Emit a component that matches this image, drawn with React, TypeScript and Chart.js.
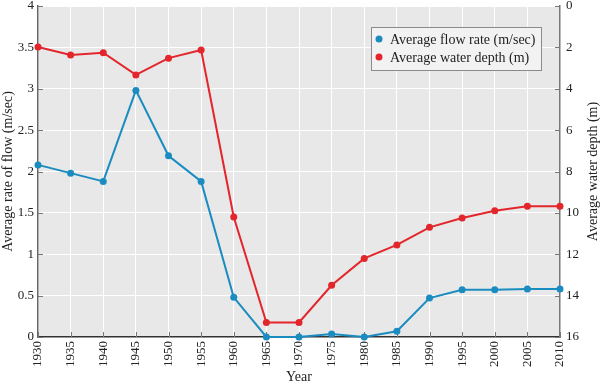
import React, { useEffect, useRef } from "react";
import { Chart, registerables } from "chart.js";

Chart.register(...registerables);

const years = ["1930", "1935", "1940", "1945", "1950", "1955", "1960", "1965", "1970", "1975", "1980", "1985", "1990", "1995", "2000", "2005", "2010"];
const flowRate = [2.08, 1.98, 1.88, 2.98, 2.19, 1.88, 0.48, 0, 0, 0.035, 0, 0.07, 0.47, 0.57, 0.57, 0.58, 0.58];
const waterDepth = [1.98, 2.37, 2.26, 3.33, 2.52, 2.13, 10.2, 15.3, 15.3, 13.5, 12.2, 11.55, 10.7, 10.25, 9.9, 9.68, 9.68];
const flowLabel = "Average flow rate (m/sec)";
const depthLabel = "Average water depth (m)";
const xTitle = "Year";
const yTitle = "Average rate of flow (m/sec)";
const y2Title = "Average water depth (m)";

const BLUE = "#1a8cc0";
const RED = "#e2262b";
const FONT = "'Liberation Serif', 'Times New Roman', serif";

const bgPlugin = {
  id: "bgAndTicks",
  beforeDraw(chart: any) {
    const { ctx, chartArea } = chart;
    ctx.save();
    ctx.fillStyle = "#e8e8e8";
    ctx.fillRect(chartArea.left, chartArea.top, chartArea.right - chartArea.left, chartArea.bottom - chartArea.top);
    ctx.restore();
  },
  beforeDatasetsDraw(chart: any) {
    const { ctx, chartArea, scales } = chart;
    ctx.save();
    ctx.strokeStyle = "#777";
    ctx.lineWidth = 1;
    const len = 5;
    const x = scales.x;
    x.ticks.forEach((_t: any, i: number) => {
      const px = Math.round(x.getPixelForTick(i)) + 0.5;
      ctx.beginPath();
      ctx.moveTo(px, chartArea.bottom);
      ctx.lineTo(px, chartArea.bottom - len);
      ctx.stroke();
    });
    const y = scales.y;
    y.ticks.forEach((t: any) => {
      const py = Math.round(y.getPixelForValue(t.value)) + 0.5;
      ctx.beginPath();
      ctx.moveTo(chartArea.left, py);
      ctx.lineTo(chartArea.left + len, py);
      ctx.stroke();
    });
    const y2 = scales.y2;
    y2.ticks.forEach((t: any) => {
      const py = Math.round(y2.getPixelForValue(t.value)) + 0.5;
      ctx.beginPath();
      ctx.moveTo(chartArea.right, py);
      ctx.lineTo(chartArea.right - len, py);
      ctx.stroke();
    });
    ctx.restore();
  },
  afterDraw(chart: any) {
    const { ctx, chartArea } = chart;
    const bx = chartArea.left + 333;
    const by = chartArea.top + 21;
    const bw = 170;
    const bh = 43;
    ctx.save();
    ctx.fillStyle = "#f2f2f2";
    ctx.fillRect(bx, by, bw, bh);
    ctx.strokeStyle = "#8a8a8a";
    ctx.lineWidth = 1;
    ctx.strokeRect(bx + 0.5, by + 0.5, bw, bh);
    const items = [
      { label: flowLabel, color: BLUE },
      { label: depthLabel, color: RED },
    ];
    ctx.font = "14px " + FONT;
    ctx.textBaseline = "middle";
    ctx.textAlign = "left";
    items.forEach((it, i) => {
      const cy = by + 12 + i * 18;
      ctx.fillStyle = it.color;
      ctx.beginPath();
      ctx.arc(bx + 8, cy, 3.5, 0, Math.PI * 2);
      ctx.fill();
      ctx.fillStyle = "#222";
      ctx.fillText(it.label, bx + 19, cy + 1);
    });
    // right axis title, reading bottom to top
    ctx.translate(chart.width - 7, (chartArea.top + chartArea.bottom) / 2);
    ctx.rotate(-Math.PI / 2);
    ctx.textAlign = "center";
    ctx.fillStyle = "#222";
    ctx.fillText(y2Title, 0, 0);
    ctx.restore();
  },
};

export default function App() {
  const ref = useRef<HTMLCanvasElement>(null);
  useEffect(() => {
    document.body.style.margin = "0";
    Chart.defaults.font.family = FONT;
    Chart.defaults.font.size = 13;
    Chart.defaults.color = "#222";
    const chart = new Chart(ref.current as HTMLCanvasElement, {
      type: "line",
      data: {
        labels: years,
        datasets: [
          {
            label: flowLabel,
            data: flowRate,
            yAxisID: "y",
            borderColor: BLUE,
            backgroundColor: BLUE,
            borderWidth: 2,
            pointRadius: 3.5,
            pointBorderWidth: 0,
            pointBackgroundColor: BLUE,
            tension: 0,
            clip: false as any,
          },
          {
            label: depthLabel,
            data: waterDepth,
            yAxisID: "y2",
            borderColor: RED,
            backgroundColor: RED,
            borderWidth: 2,
            pointRadius: 3.5,
            pointBorderWidth: 0,
            pointBackgroundColor: RED,
            tension: 0,
            clip: false as any,
          },
        ],
      },
      plugins: [bgPlugin],
      options: {
        animation: false,
        responsive: false,
        maintainAspectRatio: false,
        layout: { padding: { top: 6, left: 0, right: 0, bottom: 0 } },
        plugins: {
          legend: { display: false },
          tooltip: { enabled: false },
        },
        scales: {
          x: {
            offset: false,
            grid: { color: "#ffffff", lineWidth: 1, drawTicks: false },
            border: { color: "#333", width: 1.5 },
            ticks: { maxRotation: 90, minRotation: 90, padding: 4, autoSkip: false },
            title: { display: true, text: xTitle, font: { size: 14 }, padding: { top: 0, bottom: 2 } },
            afterFit: (s: any) => {
              s.height = 51;
              s.paddingLeft = 0;
              s.paddingRight = 0;
            },
          },
          y: {
            position: "left",
            min: 0,
            max: 4,
            ticks: { stepSize: 0.5, padding: 4, callback: (v: any) => String(v) },
            grid: { color: "#ffffff", lineWidth: 1, drawTicks: false },
            border: { color: "#666", width: 1.5 },
            title: { display: true, text: yTitle, font: { size: 14 }, padding: { top: 0, bottom: 0 } },
            afterFit: (s: any) => {
              s.width = 38;
              s.paddingTop = 0;
              s.paddingBottom = 0;
            },
          },
          y2: {
            position: "right",
            min: 0,
            max: 16,
            reverse: true,
            ticks: { stepSize: 2, padding: 6, callback: (v: any) => String(v) },
            grid: { display: false, drawTicks: false },
            border: { color: "#777", width: 1.5 },
            title: { display: false },
            afterFit: (s: any) => {
              s.width = 40;
              s.paddingTop = 0;
              s.paddingBottom = 0;
            },
          },
        },
      },
    });
    return () => chart.destroy();
  }, []);
  return (
    <div style={{ width: 600, height: 388 }}>
      <canvas ref={ref} width={600} height={388} style={{ display: "block" }} />
    </div>
  );
}
